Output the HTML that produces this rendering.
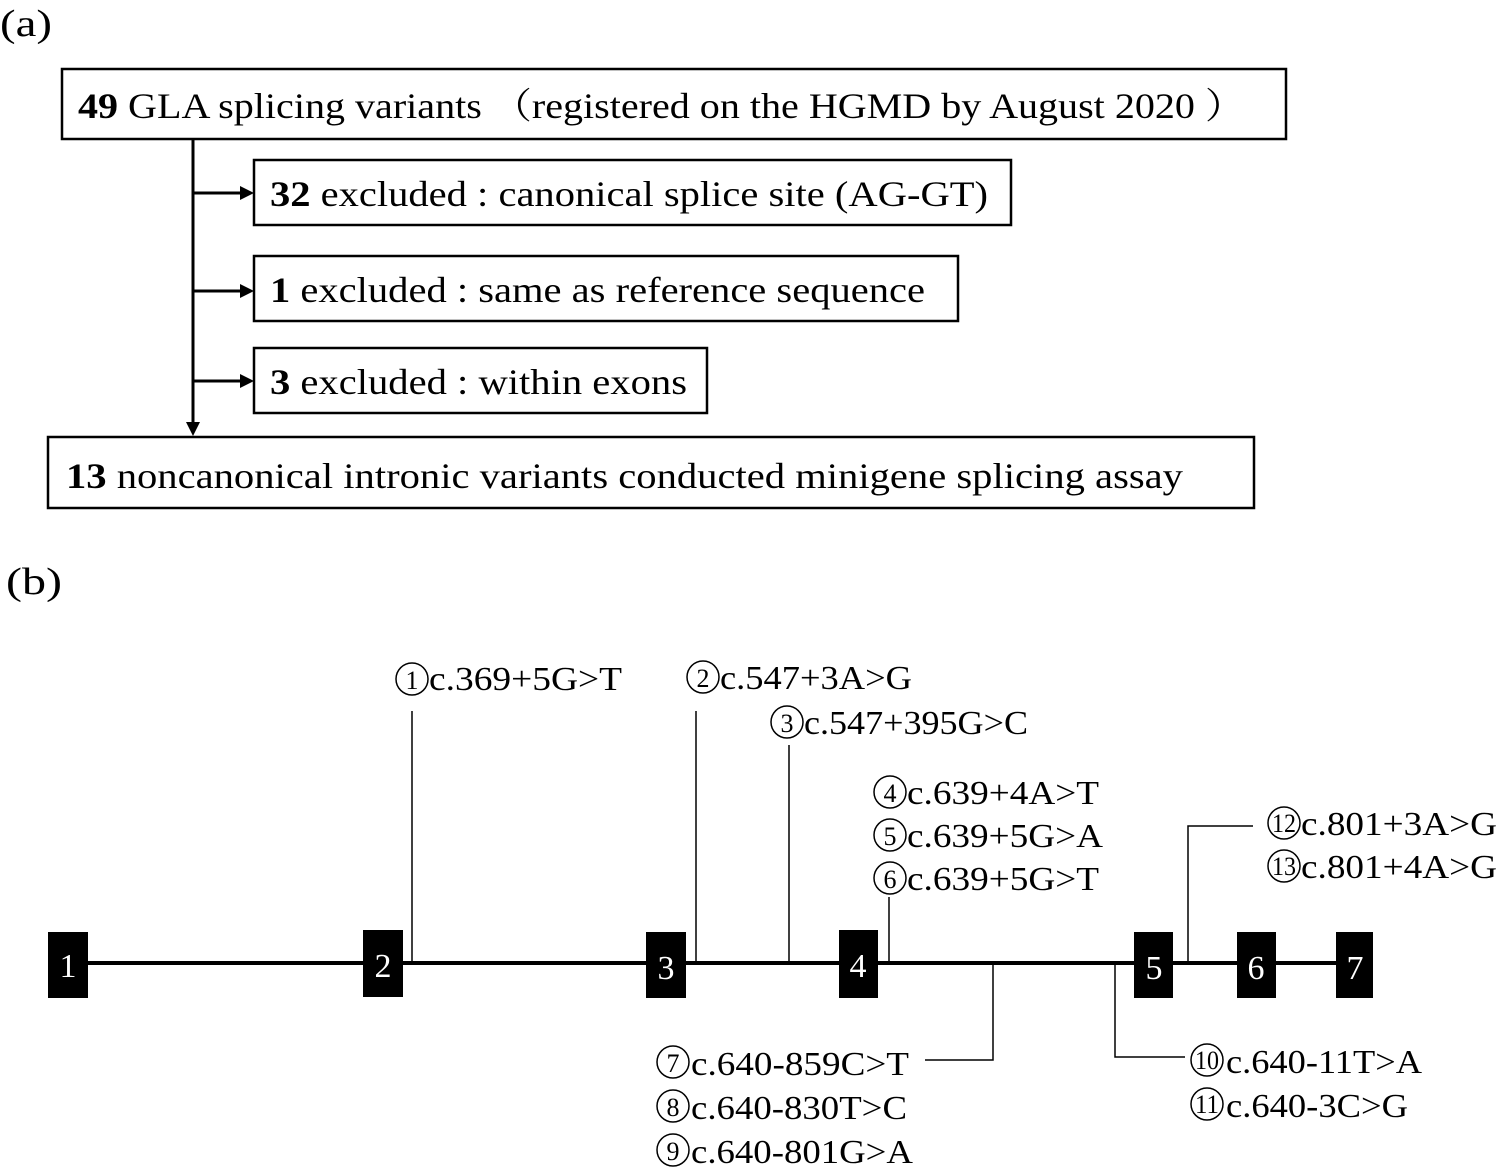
<!DOCTYPE html>
<html><head><meta charset="utf-8"><style>
html,body{margin:0;padding:0;background:#fff}
svg{display:block}
text{font-family:"Liberation Serif","Noto Serif CJK SC",serif;fill:#000}
</style></head><body>
<svg width="1498" height="1171" viewBox="0 0 1498 1171" xmlns="http://www.w3.org/2000/svg">
<defs><marker id="ah" markerWidth="10" markerHeight="10" refX="9" refY="5" orient="auto" markerUnits="userSpaceOnUse"><path d="M0,0 L10,5 L0,10z" fill="#000"/></marker></defs>
<text x="0" y="36" font-size="38" textLength="52" lengthAdjust="spacingAndGlyphs">(a)</text>
<g fill="none" stroke="#000" stroke-width="2.5">
<rect x="62" y="69" width="1224" height="70"/>
<rect x="254" y="160" width="757" height="65"/>
<rect x="254" y="256" width="704" height="65"/>
<rect x="254" y="348" width="453" height="65"/>
<rect x="48" y="437" width="1206" height="71"/>
</g>
<g stroke="#000" stroke-width="3">
<line x1="193" y1="139" x2="193" y2="428"/>
<line x1="193" y1="193" x2="244" y2="193"/>
<line x1="193" y1="291" x2="244" y2="291"/>
<line x1="193" y1="381" x2="244" y2="381"/>
</g>
<path d="M186,422 L200,422 L193,436z"/>
<path d="M240,186 L254,193 L240,200z"/>
<path d="M240,284 L254,291 L240,298z"/>
<path d="M240,374 L254,381 L240,388z"/>
<text x="78" y="118" font-size="36" textLength="1167" lengthAdjust="spacingAndGlyphs"><tspan font-weight="bold">49</tspan> GLA splicing variants （registered on the HGMD by August 2020 ）</text>
<text x="270" y="206" font-size="36" textLength="718" lengthAdjust="spacingAndGlyphs"><tspan font-weight="bold">32</tspan> excluded : canonical splice site (AG-GT)</text>
<text x="270" y="302" font-size="36" textLength="655" lengthAdjust="spacingAndGlyphs"><tspan font-weight="bold">1</tspan> excluded : same as reference sequence</text>
<text x="270" y="394" font-size="36" textLength="417" lengthAdjust="spacingAndGlyphs"><tspan font-weight="bold">3</tspan> excluded : within exons</text>
<text x="66" y="488" font-size="36" textLength="1117" lengthAdjust="spacingAndGlyphs"><tspan font-weight="bold">13</tspan> noncanonical intronic variants conducted minigene splicing assay</text>
<text x="6" y="594" font-size="38" textLength="56" lengthAdjust="spacingAndGlyphs">(b)</text>

<line x1="68" y1="963" x2="1355" y2="963" stroke="#000" stroke-width="4"/>
<g fill="#000">
<rect x="48" y="932" width="40" height="66"/>
<rect x="363" y="930" width="40" height="67"/>
<rect x="646" y="932" width="40" height="66"/>
<rect x="839" y="930" width="39" height="68"/>
<rect x="1134" y="932" width="39" height="66"/>
<rect x="1237" y="932" width="39" height="66"/>
<rect x="1336" y="932" width="37" height="66"/>
</g>
<g font-size="34" fill="#fff" text-anchor="middle">
<text x="68" y="977" fill="#fff" style="fill:#fff">1</text>
<text x="383" y="977" style="fill:#fff">2</text>
<text x="666" y="979" style="fill:#fff">3</text>
<text x="858" y="977" style="fill:#fff">4</text>
<text x="1154" y="979" style="fill:#fff">5</text>
<text x="1256" y="979" style="fill:#fff">6</text>
<text x="1355" y="979" style="fill:#fff">7</text>
</g>
<g stroke="#000" stroke-width="1.5" fill="none">
<line x1="412" y1="711" x2="412" y2="963"/>
<line x1="696" y1="711" x2="696" y2="963"/>
<line x1="789" y1="745" x2="789" y2="963"/>
<line x1="889" y1="897" x2="889" y2="963"/>
<polyline points="1188,963 1188,826 1253,826"/>
<polyline points="993,963 993,1060 925,1060"/>
<polyline points="1115,963 1115,1057 1185,1057"/>
</g>
<g stroke="#000" stroke-width="1.5" fill="none">
<circle cx="412" cy="679" r="16"/>
<circle cx="703" cy="677" r="16"/>
<circle cx="787" cy="722" r="16"/>
<circle cx="890" cy="792" r="16"/>
<circle cx="890" cy="835" r="16"/>
<circle cx="890" cy="878" r="16"/>
<circle cx="1284" cy="823" r="16"/>
<circle cx="1284" cy="866" r="16"/>
<circle cx="673" cy="1062" r="16"/>
<circle cx="673" cy="1106" r="16"/>
<circle cx="673" cy="1150" r="16"/>
<circle cx="1207" cy="1060" r="16"/>
<circle cx="1207" cy="1104" r="16"/>
</g>
<g font-size="26" text-anchor="middle">
<text x="412" y="689">1</text><text x="703" y="687">2</text><text x="787" y="732">3</text>
<text x="890" y="802">4</text><text x="890" y="845">5</text><text x="890" y="888">6</text>
<text x="1284" y="832" textLength="24" lengthAdjust="spacingAndGlyphs">12</text><text x="1284" y="875" textLength="24" lengthAdjust="spacingAndGlyphs">13</text>
<text x="673" y="1072">7</text><text x="673" y="1116">8</text><text x="673" y="1160">9</text>
<text x="1207" y="1069" textLength="24" lengthAdjust="spacingAndGlyphs">10</text><text x="1207" y="1113" textLength="24" lengthAdjust="spacingAndGlyphs">11</text>
</g>
<g font-size="34" lengthAdjust="spacingAndGlyphs">
<text x="429" y="690" textLength="193" lengthAdjust="spacingAndGlyphs">c.369+5G&gt;T</text>
<text x="720" y="689" textLength="192" lengthAdjust="spacingAndGlyphs">c.547+3A&gt;G</text>
<text x="804" y="734" textLength="224" lengthAdjust="spacingAndGlyphs">c.547+395G&gt;C</text>
<text x="907" y="804" textLength="192" lengthAdjust="spacingAndGlyphs">c.639+4A&gt;T</text>
<text x="907" y="847" textLength="196" lengthAdjust="spacingAndGlyphs">c.639+5G&gt;A</text>
<text x="907" y="890" textLength="192" lengthAdjust="spacingAndGlyphs">c.639+5G&gt;T</text>
<text x="1301" y="835" textLength="196" lengthAdjust="spacingAndGlyphs">c.801+3A&gt;G</text>
<text x="1301" y="878" textLength="196" lengthAdjust="spacingAndGlyphs">c.801+4A&gt;G</text>
<text x="691" y="1075" textLength="218" lengthAdjust="spacingAndGlyphs">c.640-859C&gt;T</text>
<text x="691" y="1119" textLength="216" lengthAdjust="spacingAndGlyphs">c.640-830T&gt;C</text>
<text x="691" y="1163" textLength="222" lengthAdjust="spacingAndGlyphs">c.640-801G&gt;A</text>
<text x="1226" y="1073" textLength="196" lengthAdjust="spacingAndGlyphs">c.640-11T&gt;A</text>
<text x="1226" y="1117" textLength="182" lengthAdjust="spacingAndGlyphs">c.640-3C&gt;G</text>
</g>
</svg>
</body></html>
